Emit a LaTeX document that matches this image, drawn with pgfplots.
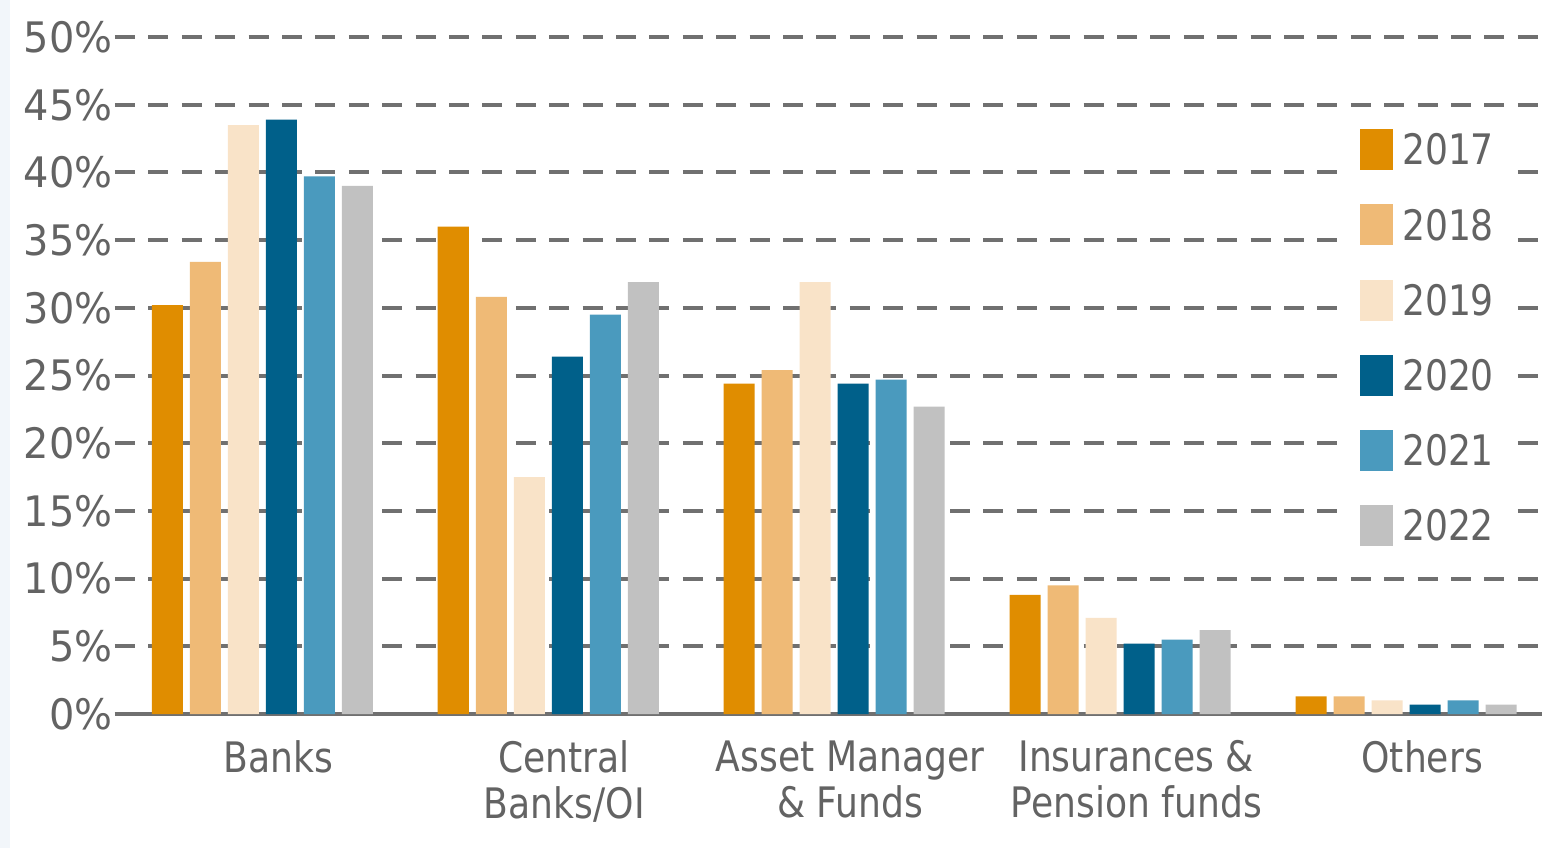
\documentclass[border=0pt]{standalone}
\usepackage{pgfplots}
\pgfplotsset{compat=1.18}
\usepackage{pgfplotstable}
\usepackage{fontspec}
\setmainfont{DejaVu Sans}[FakeStretch=0.86]
\newfontfamily\tickfont{DejaVu Sans}[FakeStretch=0.95]
\definecolor{cA}{HTML}{E08D00}
\definecolor{cB}{HTML}{EFBA76}
\definecolor{cC}{HTML}{F9E3C8}
\definecolor{cD}{HTML}{00608A}
\definecolor{cE}{HTML}{4A9ABE}
\definecolor{cF}{HTML}{C1C1C1}
\definecolor{linec}{HTML}{707070}
\definecolor{textc}{HTML}{636363}
\definecolor{stripc}{HTML}{F2F6FA}
\pgfplotstableread{
x  a    b    c    d    e    f
0  30.2 33.4 43.5 43.9 39.7 39.0
1  36.0 30.8 17.5 26.4 29.5 31.9
2  24.4 25.4 31.9 24.4 24.7 22.7
3  8.8  9.5  7.1  5.2  5.5  6.2
4  1.3  1.3  1.0  0.7  1.0  0.7
}\data
\begin{document}
\begin{tikzpicture}
\fill[white] (-57.5pt,-67pt) rectangle (713.5pt,357pt);
\fill[stripc] (-57.5pt,-67pt) rectangle (-52.5pt,357pt);
\begin{axis}[
  at={(0,0)}, anchor=south west,
  scale only axis, width=713.5pt, height=338.5pt,
  xmin=-0.515, xmax=4.475, ymin=0, ymax=50,
  ybar=3.5pt, bar width=15.5pt,
  axis x line*=bottom, axis y line*=left,
  y axis line style={draw=none},
  x axis line style={draw=linec, line width=1.8pt, -},
  ytick={0,5,...,50},
  /pgf/number format/assume math mode=true,
  yticklabel={\pgfmathprintnumber{\tick}\%},
  ymajorgrids,
  grid style={draw=linec, line width=2pt, dash pattern=on 10pt off 6.7pt},
  major tick length=0pt, tick style={draw=none},
  xtick={0,1,2,3,4},
  xticklabels={Banks,{Central\\Banks/OI},{Asset Manager\\\& Funds},{Insurances \&\\Pension funds},Others},
  tick label style={font=\fontsize{21}{23}\selectfont, text=textc},
  yticklabel style={anchor=east, inner sep=0pt, xshift=-1pt, font=\tickfont\fontsize{21}{23}\selectfont},
  xticklabel style={align=center, anchor=north, inner sep=0pt, xshift=8pt, yshift=-13pt},
  legend style={at={(0.8606,0.889)}, anchor=north west, draw=none, fill=white,
    inner xsep=8.5pt, inner ysep=8.5pt, outer sep=0pt, row sep=17.1pt, column sep=4.5pt,
    font=\fontsize{21}{23}\selectfont, text=textc,
    nodes={inner sep=0pt, text height=17.9pt, text depth=2.6pt, anchor=base west}},
  legend image code/.code={\fill[#1] (0pt,-2.6pt) rectangle (16.5pt,17.9pt);},
]
\addplot[fill=cA, draw=none] table[x=x, y=a] {\data};
\addplot[fill=cB, draw=none] table[x=x, y=b] {\data};
\addplot[fill=cC, draw=none] table[x=x, y=c] {\data};
\addplot[fill=cD, draw=none] table[x=x, y=d] {\data};
\addplot[fill=cE, draw=none] table[x=x, y=e] {\data};
\addplot[fill=cF, draw=none] table[x=x, y=f] {\data};
\legend{2017,2018,2019,2020,2021,2022}
\end{axis}
\pgfresetboundingbox
\path[use as bounding box] (-57.5pt,-67pt) rectangle (713.5pt,357pt);
\end{tikzpicture}
\end{document}
